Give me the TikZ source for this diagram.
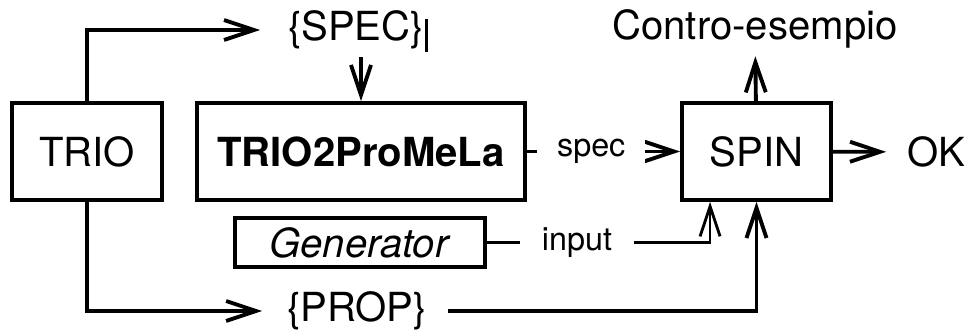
\documentclass[tikz,border=0pt]{standalone}
\usepackage{fontspec}
\setmainfont{TeX Gyre Heros}
\usetikzlibrary{arrows.meta}

\begin{document}
\begin{tikzpicture}[line width=1.1pt,
  box/.style={draw, minimum height=0.97cm, inner sep=0pt, font=\fontsize{11.4}{13}\selectfont},
  txt/.style={inner sep=0.6mm, font=\fontsize{11.4}{13}\selectfont},
  lbl/.style={fill=white, inner xsep=2mm, inner ysep=0.5mm, font=\fontsize{9.2}{11}\selectfont},
  barb/.style={-{Straight Barb[length=3mm, width=2mm]}}]

\useasboundingbox (0,0) rectangle (9.7,3.3);

% blocks
\node [box, minimum width=1.5cm] (trio) at (0.87,1.785) {TRIO};
\node [box, minimum width=3.28cm] (t2p) at (3.61,1.785) {\textbf{TRIO2ProMeLa}};
\node [box, minimum width=2.5cm, minimum height=0.49cm] (gen) at (3.60,0.875) {\textit{Generator}};
\node [box, minimum width=1.49cm] (spin) at (7.565,1.785) {SPIN};

% free texts
\node [txt] (spec) at (3.56,3.00) {\{SPEC\}};
\node [txt] (prop) at (3.57,0.19) {\{PROP\}};
\node [txt] (cex) at (7.55,3.01) {Contro-esempio};
\node [txt] (ok) at (9.36,1.78) {OK};
\node [lbl] (inp) at (5.77,0.875) {input};

\draw [line width=0.8pt] ([xshift=-0.5mm,yshift=-1.6mm]spec.north east) -- ([xshift=-0.5mm,yshift=0.5mm]spec.south east);

\coordinate (spinin) at ([xshift=3mm]spin.south west);

\begin{scope}[barb]
\draw [shorten >=2mm] (trio) |- (spec);
\draw [shorten >=1.7mm] (trio) |- (prop);
\draw (t2p.north |- spec.south) -- (t2p.north);
\draw (t2p) -- node [lbl, pos=0.42] {spec} (spin);
\draw [shorten <=1.3mm] (prop) -| (spin);
\draw (spin) -- (cex);
\draw [shorten >=1.3mm] (spin) -- (ok);
\draw [line width=0.8pt] (inp) -| (spinin);
\end{scope}
\draw [line width=0.8pt] (gen) -- (inp);

\end{tikzpicture}
\end{document}
